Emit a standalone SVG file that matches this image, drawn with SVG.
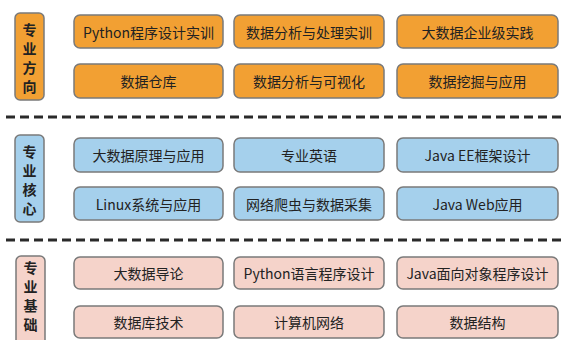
<svg xmlns="http://www.w3.org/2000/svg" width="567" height="340" viewBox="0 0 567 340">
<style>
.c{stroke:#7a7a7a;stroke-width:1.5}
.o{fill:#F2A033}
.b{fill:#A5D0EC}
.p{fill:#F5D3CA}
text{font-family:"Noto Sans CJK SC","Noto Sans",sans-serif;fill:#222}
.t{font-size:14px;text-anchor:middle;dominant-baseline:central}
.v{font-size:14px;font-weight:bold;text-anchor:middle}
.d{stroke:#2a2a2a;stroke-width:3;stroke-dasharray:9 5;fill:none}
</style>
<rect width="567" height="340" fill="#fff"/>
<g id="connectors">
<line class="d" x1="6" y1="117" x2="562" y2="117"/>
<line class="d" x1="6" y1="240" x2="562" y2="240"/>
</g>
<g id="sec1">
<rect class="c o" x="15" y="13" width="29" height="87" rx="5"/>
<text class="v" x="29.5" y="35">专</text><text class="v" x="29.5" y="54">业</text><text class="v" x="29.5" y="73">方</text><text class="v" x="29.5" y="92">向</text>
</g>
<g id="n1"><rect class="c o" x="74" y="15" width="149" height="33" rx="6"/><text class="t" x="148.5" y="31.5">Python程序设计实训</text></g>
<g id="n2"><rect class="c o" x="234" y="15" width="150" height="33" rx="6"/><text class="t" x="309" y="31.5">数据分析与处理实训</text></g>
<g id="n3"><rect class="c o" x="397" y="15" width="161" height="33" rx="6"/><text class="t" x="477.5" y="31.5">大数据企业级实践</text></g>
<g id="n4"><rect class="c o" x="74" y="64" width="149" height="34" rx="6"/><text class="t" x="148.5" y="81">数据仓库</text></g>
<g id="n5"><rect class="c o" x="234" y="64" width="150" height="34" rx="6"/><text class="t" x="309" y="81">数据分析与可视化</text></g>
<g id="n6"><rect class="c o" x="397" y="64" width="161" height="34" rx="6"/><text class="t" x="477.5" y="81">数据挖掘与应用</text></g>
<g id="sec2">
<rect class="c b" x="15" y="135" width="29" height="87" rx="5"/>
<text class="v" x="29.5" y="157">专</text><text class="v" x="29.5" y="176">业</text><text class="v" x="29.5" y="195">核</text><text class="v" x="29.5" y="214">心</text>
</g>
<g id="n7"><rect class="c b" x="74" y="138" width="149" height="34" rx="6"/><text class="t" x="148.5" y="155">大数据原理与应用</text></g>
<g id="n8"><rect class="c b" x="234" y="138" width="150" height="34" rx="6"/><text class="t" x="309" y="155">专业英语</text></g>
<g id="n9"><rect class="c b" x="397" y="138" width="161" height="34" rx="6"/><text class="t" x="477.5" y="155">Java EE框架设计</text></g>
<g id="n10"><rect class="c b" x="74" y="187" width="149" height="33" rx="6"/><text class="t" x="148.5" y="203.5">Linux系统与应用</text></g>
<g id="n11"><rect class="c b" x="234" y="187" width="150" height="33" rx="6"/><text class="t" x="309" y="203.5">网络爬虫与数据采集</text></g>
<g id="n12"><rect class="c b" x="397" y="187" width="161" height="33" rx="6"/><text class="t" x="477.5" y="203.5">Java Web应用</text></g>
<g id="sec3">
<rect class="c p" x="16" y="256" width="29" height="92" rx="5"/>
<text class="v" x="30.5" y="273">专</text><text class="v" x="30.5" y="292">业</text><text class="v" x="30.5" y="311">基</text><text class="v" x="30.5" y="330">础</text>
</g>
<g id="n13"><rect class="c p" x="74" y="257" width="149" height="32" rx="6"/><text class="t" x="148.5" y="273">大数据导论</text></g>
<g id="n14"><rect class="c p" x="234" y="257" width="150" height="32" rx="6"/><text class="t" x="309" y="273">Python语言程序设计</text></g>
<g id="n15"><rect class="c p" x="397" y="257" width="161" height="32" rx="6"/><text class="t" x="477.5" y="273">Java面向对象程序设计</text></g>
<g id="n16"><rect class="c p" x="74" y="306" width="149" height="32" rx="6"/><text class="t" x="148.5" y="322">数据库技术</text></g>
<g id="n17"><rect class="c p" x="234" y="306" width="150" height="32" rx="6"/><text class="t" x="309" y="322">计算机网络</text></g>
<g id="n18"><rect class="c p" x="397" y="306" width="161" height="32" rx="6"/><text class="t" x="477.5" y="322">数据结构</text></g>
</svg>
